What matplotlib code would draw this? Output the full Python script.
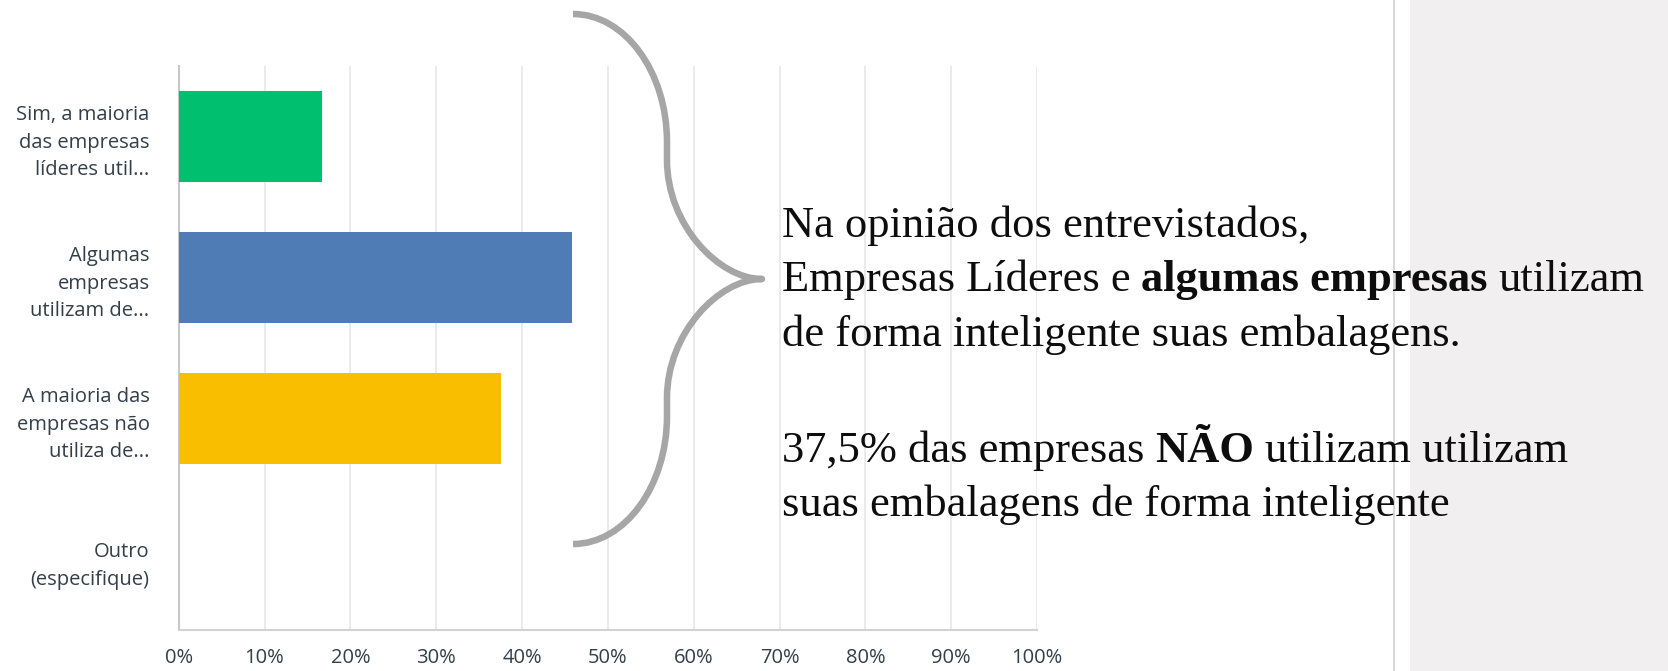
import matplotlib
matplotlib.use("Agg")
import matplotlib.pyplot as plt
from matplotlib.path import Path
from matplotlib.patches import PathPatch, Rectangle

W, H, DPI = 1668, 671, 100

# ------------------------------------------------------------------
# data
# ------------------------------------------------------------------
categories = [
    "Sim, a maioria\ndas empresas\nlíderes util...",
    "Algumas\nempresas\nutilizam de...",
    "A maioria das\nempresas não\nutiliza de...",
    "Outro\n(especifique)",
]
percent = [16.67, 45.83, 37.5, 0.0]
bar_colors = ["#00bf6f", "#507cb6", "#f9be00", "#6bc8cd"]
xticks = list(range(0, 101, 10))
xtick_labels = [f"{v}%" for v in xticks]

note_lines = [
    [("Na opinião dos entrevistados,", "normal")],
    [("Empresas Líderes e", "normal"), ("algumas empresas", "bold"), ("utilizam", "normal")],
    [("de forma inteligente suas embalagens.", "normal")],
    [("37,5% das empresas", "normal"), ("NÃO", "bold"), ("utilizam utilizam", "normal")],
    [("suas embalagens de forma inteligente", "normal")],
]
note_baselines = [237, 291, 346, 462, 516]

SANS = ["Open Sans", "DejaVu Sans"]
SERIF = ["Liberation Serif", "DejaVu Serif"]
LABEL_COLOR = "#333e48"

fig = plt.figure(figsize=(W / DPI, H / DPI), dpi=DPI)
fig.patch.set_facecolor("white")

# right-hand grey panel and divider
fig.add_artist(Rectangle((1410 / W, 0), 1 - 1410 / W, 1, transform=fig.transFigure,
                         facecolor="#f1eff0", edgecolor="none", zorder=0))
fig.add_artist(plt.Line2D([1394 / W, 1394 / W], [0, 1], transform=fig.transFigure,
                          color="#d8d8d8", lw=1.4, zorder=0))

# ------------------------------------------------------------------
# bar chart
# ------------------------------------------------------------------
ax = fig.add_axes([178.7 / W, 1 - 630 / H, (1037 - 178.7) / W, (630 - 66) / H])
ax.set_facecolor("none")
ypos = list(range(len(categories)))
ax.barh(ypos, percent, height=0.64, color=bar_colors, zorder=3)
ax.set_xlim(0, 100)
ax.set_ylim(len(categories) - 0.5, -0.5)
ax.set_xticks(xticks)
ax.set_xticklabels(xtick_labels)
ax.set_yticks(ypos)
ax.set_yticklabels(categories)
ax.tick_params(axis="both", length=0, labelsize=14.5, labelcolor=LABEL_COLOR)
ax.tick_params(axis="x", pad=13)
ax.tick_params(axis="y", pad=21)
for lab in ax.get_xticklabels() + ax.get_yticklabels():
    lab.set_family(SANS)
for lab in ax.get_yticklabels():
    lab.set_linespacing(1.5)
ax.grid(axis="x", color="#e6e6e6", lw=1.2, zorder=0)
for s in ("top", "right"):
    ax.spines[s].set_visible(False)
ax.spines["left"].set_color("#c8c8c8")
ax.spines["bottom"].set_color("#d2d2d2")
ax.spines["left"].set_linewidth(1.5)
ax.spines["bottom"].set_linewidth(1.5)

# ------------------------------------------------------------------
# overlay in pixel coordinates (y down): brace + note
# ------------------------------------------------------------------
ov = fig.add_axes([0, 0, 1, 1], zorder=5)
ov.set_xlim(0, W)
ov.set_ylim(H, 0)
ov.axis("off")

verts = [
    (573, 14), (625, 14), (667, 72), (667, 142),
    (667, 160),
    (667, 225), (719, 279), (762, 279),
    (719, 279), (667, 333), (667, 398),
    (667, 416),
    (667, 486), (625, 544), (573, 544),
]
codes = [Path.MOVETO, Path.CURVE4, Path.CURVE4, Path.CURVE4,
         Path.LINETO,
         Path.CURVE4, Path.CURVE4, Path.CURVE4,
         Path.CURVE4, Path.CURVE4, Path.CURVE4,
         Path.LINETO,
         Path.CURVE4, Path.CURVE4, Path.CURVE4]
ov.add_patch(PathPatch(Path(verts, codes), fill=False, edgecolor="#a6a6a6",
                       lw=4.7, capstyle="butt", joinstyle="round"))

renderer = fig.canvas.get_renderer()
size = 32
gap = size * 0.24 * DPI / 72
for pieces, base in zip(note_lines, note_baselines):
    x = 782
    for txt, weight in pieces:
        t = ov.text(x, base, txt, fontsize=size, fontweight=weight, family=SERIF,
                    color="#0d0d0d", ha="left", va="baseline")
        bb = t.get_window_extent(renderer)
        x = bb.x1 + gap

fig.savefig("out.png", dpi=DPI)
